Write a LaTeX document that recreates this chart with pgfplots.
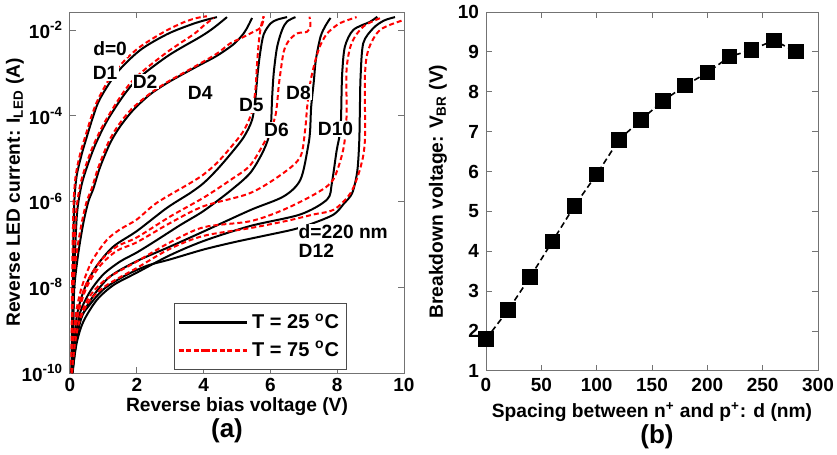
\documentclass[border=0pt]{standalone}
\usepackage{fontspec}
\setmainfont{Liberation Sans}
\usepackage{pgfplots}
\pgfplotsset{compat=1.18}

\definecolor{axgray}{gray}{0.45}

\pgfplotsset{
  panel/.style={
    scale only axis,
    axis line style={axgray, line width=0.5pt},
    tick style={axgray, line width=0.5pt},
    tick align=inside,
    major tick length=3pt,
    tick label style={font=\fontsize{9.5}{11}\selectfont\bfseries, black},
    label style={font=\fontsize{9.6}{11}\selectfont\bfseries},
    /pgf/number format/assume math mode=true,
  },
  c25/.style={black, line width=1pt, smooth, tension=0.5},
  c75/.style={red, line width=1pt, dash pattern=on 2.5pt off 1.5pt, smooth, tension=0.5},
}
\tikzset{lab/.style={font=\fontsize{9.6}{11}\selectfont\bfseries, fill=white, inner sep=0.6pt}}

\begin{document}
\begin{tikzpicture}
\path[use as bounding box] (-35pt,-41pt) rectangle (383.5pt,186.5pt);

% ---------------- (a) reverse I-V of the LEDs ----------------
\begin{axis}[panel,
  at={(0pt,0pt)}, anchor=south west,
  width=167pt, height=180.5pt,
  xmin=0, xmax=10, ymin=1e-10, ymax=0.0263,
  ymode=log, yminorticks=false,
  xtick={0,2,4,6,8,10},
  ytick={1e-10,1e-8,1e-6,1e-4,1e-2},
  yticklabels={10\textsuperscript{-10},10\textsuperscript{-8},10\textsuperscript{-6},10\textsuperscript{-4},10\textsuperscript{-2}},
  xticklabel style={yshift=1pt},
  xlabel={Reverse bias voltage (V)},
  ylabel={Reverse LED current: I\textsubscript{LED} (A)},
  xlabel style={at={(axis description cs:0.5,-0.094)}, anchor=center},
  ylabel style={at={(axis description cs:-0.165,0.5)}, anchor=center},
  legend image code/.code={\path (-13pt,0pt) -- (0pt,0pt); \draw[#1] (0pt,0pt) -- (21pt,0pt);},
  legend style={at={(axis description cs:0.31,0.194)}, anchor=north west,
    draw=black!70, line width=0.5pt, fill=white,
    font=\fontsize{10}{12}\selectfont\bfseries,
    inner xsep=1.5pt, inner ysep=3pt, row sep=1pt},
  legend cell align=left,
]
\addlegendimage{black, line width=1.6pt}
\addlegendentry{T = 25 \textsuperscript{o}C}
\addlegendimage{red, line width=1.6pt, dash pattern=on 2.5pt off 1.3pt}
\addlegendentry{T = 75 \textsuperscript{o}C}

% D1 (d = 0)
\addplot[c25] coordinates {(0.04,1e-10)(0.06,1e-9)(0.08,1e-8)(0.10,1e-7)(0.13,1e-6)(0.20,3.98e-6)(0.35,1.26e-5)(0.50,3.16e-5)(0.70,1e-4)(0.90,2.51e-4)(1.40,1e-3)(2.10,3.39e-3)(2.90,7.94e-3)(3.60,1.32e-2)(4.00,1.66e-2)(4.40,2.00e-2)};
\addplot[c75] coordinates {(0.03,1e-10)(0.05,1e-9)(0.06,1e-8)(0.08,1e-7)(0.11,1e-6)(0.17,3.98e-6)(0.30,1.26e-5)(0.45,3.16e-5)(0.65,1e-4)(0.85,2.51e-4)(1.30,1e-3)(2.00,3.55e-3)(2.80,8.91e-3)(3.40,1.51e-2)(3.80,1.91e-2)(4.10,2.09e-2)};
% D2
\addplot[c25] coordinates {(0.06,1e-10)(0.09,1e-9)(0.12,1e-8)(0.16,1e-7)(0.22,6.31e-7)(0.35,2.51e-6)(0.55,7.94e-6)(0.80,2.51e-5)(1.20,1e-4)(1.90,5.75e-4)(2.90,2.40e-3)(3.90,6.92e-3)(4.30,1.12e-2)(4.70,2.00e-2)};
\addplot[c75] coordinates {(0.05,1e-10)(0.07,1e-9)(0.10,1e-8)(0.14,1e-7)(0.19,6.31e-7)(0.31,2.51e-6)(0.50,7.94e-6)(0.75,2.51e-5)(1.15,1e-4)(1.85,6.31e-4)(2.85,2.82e-3)(3.70,7.94e-3)(4.00,1.26e-2)(4.30,1.91e-2)};
% D4
\addplot[c25] coordinates {(0.06,1e-10)(0.09,1e-9)(0.13,1e-8)(0.25,6.31e-8)(0.40,3.16e-7)(0.55,1e-6)(0.70,2.00e-6)(0.90,6.31e-6)(1.20,2.29e-5)(1.50,5.62e-5)(1.90,1.38e-4)(2.40,3.16e-4)(2.90,5.75e-4)(3.40,9.55e-4)(3.90,1.55e-3)(4.40,2.51e-3)(4.90,4.68e-3)(5.20,8.32e-3)(5.35,1.32e-2)(5.45,1.91e-2)};
\addplot[c75] coordinates {(0.05,1e-10)(0.07,1e-9)(0.10,1e-8)(0.20,6.31e-8)(0.35,3.16e-7)(0.50,1e-6)(0.65,2.00e-6)(0.85,6.31e-6)(1.15,2.40e-5)(1.45,6.03e-5)(1.85,1.45e-4)(2.40,3.31e-4)(2.90,6.03e-4)(3.40,1e-3)(3.90,1.66e-3)(4.40,2.82e-3)(4.80,4.90e-3)(5.10,6.31e-3)(5.40,8.32e-3)(5.70,1.12e-2)(5.78,1.58e-2)(5.80,2.09e-2)};
% D5
\addplot[c25] coordinates {(0.06,1e-10)(0.12,5.01e-10)(0.22,2.51e-9)(0.45,1e-8)(0.80,3.16e-8)(1.30,8.91e-8)(2.00,2.04e-7)(2.90,7.08e-7)(3.60,1.58e-6)(4.00,2.69e-6)(4.40,5.50e-6)(4.80,1.26e-5)(5.20,3.16e-5)(5.45,7.94e-5)(5.55,2.51e-4)(5.62,1e-3)(5.70,3.16e-3)(5.80,7.94e-3)(6.00,1.41e-2)(6.20,1.74e-2)(6.50,2.00e-2)};
\addplot[c75] coordinates {(0.05,1e-10)(0.10,5.01e-10)(0.18,2.51e-9)(0.35,1e-8)(0.65,3.98e-8)(1.10,1.26e-7)(1.50,2.24e-7)(2.00,3.80e-7)(2.60,9.33e-7)(3.60,2.69e-6)(4.00,4.27e-6)(4.40,7.94e-6)(4.80,1.78e-5)(5.20,4.47e-5)(5.45,1.26e-4)(5.55,3.98e-4)(5.60,1.58e-3)(5.65,5.01e-3)(5.70,1e-2)(5.75,1.58e-2)(5.80,2.09e-2)};
% D6
\addplot[c25] coordinates {(0.07,1e-10)(0.15,5.01e-10)(0.30,2.51e-9)(0.60,7.94e-9)(1.00,2.00e-8)(1.50,3.98e-8)(2.00,6.46e-8)(2.60,1.26e-7)(3.30,2.82e-7)(4.00,6.03e-7)(4.80,1.78e-6)(5.40,4.68e-6)(5.80,1.58e-5)(6.00,4.68e-5)(6.05,2.51e-4)(6.10,1e-3)(6.20,3.98e-3)(6.35,1e-2)(6.50,1.58e-2)(6.75,2.00e-2)};
\addplot[c75] coordinates {(0.05,1e-10)(0.12,5.01e-10)(0.25,3.16e-9)(0.50,1.26e-8)(0.90,3.98e-8)(1.40,8.91e-8)(2.00,1.45e-7)(3.00,4.47e-7)(4.00,1.23e-6)(4.80,3.16e-6)(5.40,7.08e-6)(5.90,3.16e-5)(6.15,1e-4)(6.25,5.01e-4)(6.30,1e-3)(6.40,3.16e-3)(6.55,5.62e-3)(6.80,8.32e-3)(7.10,9.12e-3)(7.20,1.26e-2)(7.17,2.04e-2)};
% D8
\addplot[c25] coordinates {(0.08,1e-10)(0.18,5.01e-10)(0.35,2.00e-9)(0.70,6.31e-9)(1.20,1.78e-8)(2.00,4.07e-8)(3.00,8.91e-8)(4.00,2.00e-7)(5.40,6.31e-7)(6.40,1.32e-6)(6.90,3.24e-6)(7.13,1.95e-5)(7.19,4.68e-5)(7.22,1.58e-4)(7.30,6.31e-4)(7.36,2.00e-3)(7.50,6.92e-3)(7.65,1.26e-2)(7.80,1.91e-2)};
\addplot[c75] coordinates {(0.05,1e-10)(0.12,5.01e-10)(0.25,2.51e-9)(0.50,1e-8)(0.90,3.16e-8)(1.40,7.08e-8)(2.00,1.12e-7)(3.00,3.16e-7)(4.00,7.76e-7)(5.40,1.58e-6)(6.40,4.68e-6)(6.90,1.12e-5)(7.04,4.68e-5)(7.10,1.58e-4)(7.20,6.31e-4)(7.35,2.00e-3)(7.50,4.47e-3)(7.70,8.32e-3)(8.00,1.32e-2)(8.20,1.58e-2)(8.58,2.00e-2)};
% D10
\addplot[c25] coordinates {(0.07,1e-10)(0.20,5.01e-10)(0.40,1.58e-9)(0.80,5.01e-9)(1.30,1.12e-8)(2.00,2.19e-8)(3.00,5.62e-8)(4.00,1.20e-7)(5.40,2.69e-7)(6.90,5.01e-7)(7.70,1.12e-6)(7.84,2.69e-6)(7.98,1.48e-5)(8.10,5.01e-5)(8.13,3.16e-4)(8.15,1e-3)(8.23,4.07e-3)(8.48,1e-2)(8.98,1.55e-2)(9.20,2.04e-2)};
\addplot[c75] coordinates {(0.06,1e-10)(0.15,5.01e-10)(0.30,2.00e-9)(0.60,6.31e-9)(1.10,1.58e-8)(2.00,3.98e-8)(3.00,1.12e-7)(4.00,2.51e-7)(5.40,3.47e-7)(6.40,6.46e-7)(7.39,1.58e-6)(7.88,3.24e-6)(8.18,1.62e-5)(8.28,9.55e-5)(8.28,1.17e-3)(8.43,4.90e-3)(8.78,1.20e-2)(9.30,1.91e-2)};
% D12 (d = 220 nm)
\addplot[c25] coordinates {(0.04,1e-10)(0.15,5.01e-10)(0.30,1.82e-9)(0.60,3.98e-9)(1.00,8.91e-9)(1.60,1.78e-8)(2.30,3.16e-8)(3.00,4.47e-8)(4.00,7.59e-8)(4.90,1.12e-7)(5.80,1.58e-7)(6.70,2.24e-7)(7.30,3.16e-7)(7.90,5.01e-7)(8.20,8.91e-7)(8.45,1.58e-6)(8.60,5.01e-6)(8.66,2.51e-5)(8.68,1.58e-4)(8.70,8.13e-4)(8.78,4.90e-3)(9.08,1.10e-2)(9.40,1.66e-2)(9.73,2.00e-2)};
\addplot[c75] coordinates {(0.05,1e-10)(0.15,5.01e-10)(0.30,1.78e-9)(0.60,5.01e-9)(1.10,1.12e-8)(2.00,2.82e-8)(3.00,7.94e-8)(4.00,1.58e-7)(5.40,2.40e-7)(6.50,3.55e-7)(7.30,5.01e-7)(7.90,6.46e-7)(8.40,1.58e-6)(8.70,6.31e-6)(8.83,2.75e-5)(8.83,8.13e-4)(8.93,3.39e-3)(9.28,1e-2)(9.98,1.70e-2)};

% curve labels
\node[lab] at (axis cs:1.2,3.6e-3) {d=0};
\node[lab] at (axis cs:1.05,1.0e-3) {D1};
\node[lab] at (axis cs:2.25,6.3e-4) {D2};
\node[lab] at (axis cs:3.9,3.5e-4) {D4};
\node[lab] at (axis cs:5.43,1.74e-4) {D5};
\node[lab] at (axis cs:6.18,4.7e-5) {D6};
\node[lab] at (axis cs:6.84,3.5e-4) {D8};
\node[lab] at (axis cs:7.95,5.0e-5) {D10};
\node[lab, anchor=west] at (axis cs:6.8,1.95e-7) {d=220 nm};
\node[lab, anchor=west] at (axis cs:6.8,7.1e-8) {D12};
\end{axis}
\node[font=\fontsize{13}{15}\selectfont\bfseries] at (78.5pt,-29pt) {(a)};

% ---------------- (b) breakdown voltage vs spacing ----------------
\begin{axis}[panel,
  at={(208pt,1pt)}, anchor=south west,
  width=166pt, height=179.5pt,
  xmin=0, xmax=300, ymin=1, ymax=10,
  xtick={0,50,100,150,200,250,300},
  ytick={1,2,3,4,5,6,7,8,9,10},
  xlabel={Spacing between n\textsuperscript{+} and p\textsuperscript{+}: d (nm)},
  ylabel={Breakdown voltage: V\textsubscript{BR} (V)},
  xlabel style={at={(axis description cs:0.5,-0.114)}, anchor=center},
  ylabel style={at={(axis description cs:-0.145,0.5)}, anchor=center},
  clip=false,
]
\addplot[black, line width=0.8pt, dash pattern=on 3pt off 1.8pt,
  mark=square*, mark size=3.5pt, mark options={solid, fill=black}]
  coordinates {(0,1.80)(20,2.53)(40,3.36)(60,4.25)(80,5.14)(100,5.93)(120,6.79)(140,7.30)(160,7.77)(180,8.16)(200,8.48)(220,8.88)(240,9.05)(260,9.29)(280,9.01)};
\end{axis}
\node[font=\fontsize{13}{15}\selectfont\bfseries] at (293.5pt,-32pt) {(b)};
\end{tikzpicture}
\end{document}
